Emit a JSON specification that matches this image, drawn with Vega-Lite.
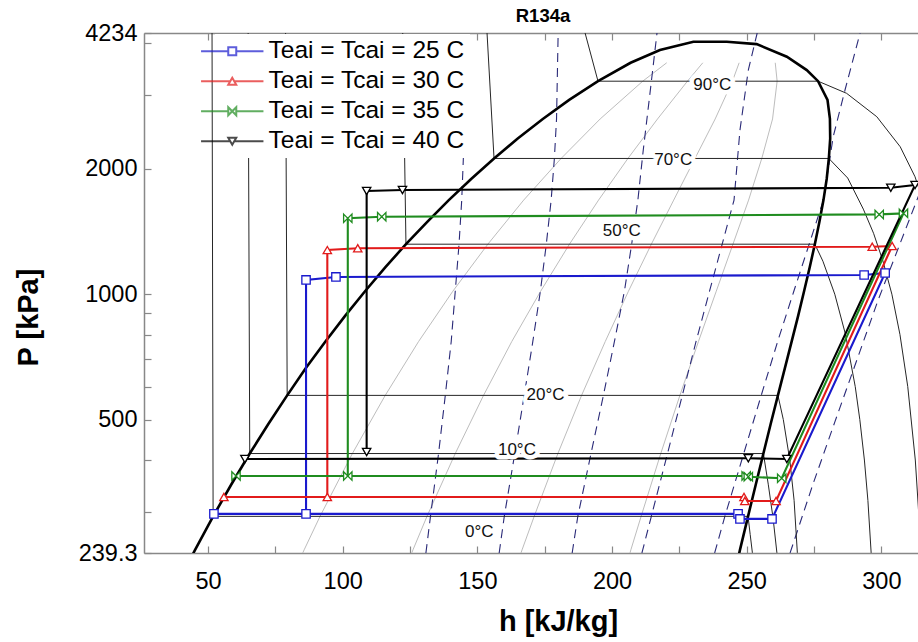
{
  "$schema": "https://vega.github.io/schema/vega-lite/v6.json",
  "width": 774,
  "height": 520,
  "autosize": "none",
  "padding": {"left": 144, "top": 33, "right": 0, "bottom": 89},
  "background": "white",
  "title": {"text": "R134a", "font": "Liberation Sans", "fontSize": 18.5, "fontWeight": "bold", "anchor": "middle", "frame": "group", "dx": 12, "dy": 19, "offset": 0, "baseline": "alphabetic", "color": "black"},
  "config": {
    "font": "Liberation Sans",
    "view": {"stroke": null},
    "axis": {"grid": false, "domainColor": "#888888", "domainWidth": 1.5, "tickColor": "#888888", "tickWidth": 1.2, "labelFont": "Liberation Sans", "labelFontSize": 23.5, "labelColor": "black", "titleFont": "Liberation Sans", "titleFontSize": 29, "titleFontWeight": "bold", "titleColor": "black", "labelFlush": false, "labelOverlap": false}
  },
  "datasets": {
    "dome": [
      {"k":0,"h":38.6,"P":200.6},{"k":1,"h":45.2,"P":243.5},{"k":2,"h":51.9,"P":293.0},{"k":3,"h":58.7,"P":349.9},{"k":4,"h":65.5,"P":414.6},{"k":5,"h":72.4,"P":488.0},{"k":6,"h":79.4,"P":571.7},{"k":7,"h":86.4,"P":665.8},{"k":8,"h":93.6,"P":770.2},{"k":9,"h":100.9,"P":887.0},{"k":10,"h":108.3,"P":1016.6},{"k":11,"h":115.8,"P":1160.2},{"k":12,"h":123.5,"P":1318.1},{"k":13,"h":131.4,"P":1491.6},{"k":14,"h":139.4,"P":1681.8},{"k":15,"h":147.7,"P":1889.8},{"k":16,"h":156.2,"P":2116.8},{"k":17,"h":165.0,"P":2364.1},{"k":18,"h":174.3,"P":2633.2},{"k":19,"h":184.1,"P":2925.8},{"k":20,"h":194.8,"P":3244.2},{"k":21,"h":206.9,"P":3591.5},{"k":22,"h":217.8,"P":3853},{"k":23,"h":230.2,"P":4034},{"k":24,"h":242.6,"P":4034},{"k":25,"h":253.7,"P":3981},{"k":26,"h":264.9,"P":3714},{"k":27,"h":272.3,"P":3450},{"k":28,"h":276.5,"P":3244.2},{"k":29,"h":280.0,"P":2925.8},{"k":30,"h":280.9,"P":2633.2},{"k":31,"h":281.0,"P":2364.1},{"k":32,"h":280.5,"P":2116.8},{"k":33,"h":279.7,"P":1889.8},{"k":34,"h":278.5,"P":1681.8},{"k":35,"h":277.0,"P":1491.6},{"k":36,"h":275.3,"P":1318.1},{"k":37,"h":273.4,"P":1160.2},{"k":38,"h":271.3,"P":1016.6},{"k":39,"h":269.1,"P":887.0},{"k":40,"h":266.7,"P":770.2},{"k":41,"h":264.2,"P":665.8},{"k":42,"h":261.6,"P":571.7},{"k":43,"h":258.9,"P":488.0},{"k":44,"h":256.2,"P":414.6},{"k":45,"h":253.4,"P":349.9},{"k":46,"h":250.5,"P":293.0},{"k":47,"h":247.5,"P":243.5},{"k":48,"h":244.6,"P":200.6}
    ],
    "isotherms": [
      {"T":"0°C","k":0,"h":51.5,"P":4234},{"T":"0°C","k":1,"h":51.9,"P":293.0},{"T":"0°C","k":2,"h":250.5,"P":293.0},{"T":"0°C","k":3,"h":251.3,"P":265},{"T":"0°C","k":4,"h":252.1,"P":240},{"T":"0°C","k":5,"h":252.3,"P":230},
      {"T":"10°C","k":0,"h":64.9,"P":4234},{"T":"10°C","k":1,"h":65.5,"P":414.6},{"T":"10°C","k":2,"h":256.2,"P":414.6},{"T":"10°C","k":3,"h":258.0,"P":350},{"T":"10°C","k":4,"h":259.8,"P":290},{"T":"10°C","k":5,"h":261.2,"P":240},{"T":"10°C","k":6,"h":261.4,"P":230},
      {"T":"20°C","k":0,"h":78.8,"P":4234},{"T":"20°C","k":1,"h":79.4,"P":571.7},{"T":"20°C","k":2,"h":261.6,"P":571.7},{"T":"20°C","k":3,"h":263.6,"P":500},{"T":"20°C","k":4,"h":266.0,"P":400},{"T":"20°C","k":5,"h":267.6,"P":320},{"T":"20°C","k":6,"h":268.8,"P":240},{"T":"20°C","k":7,"h":269.0,"P":230},
      {"T":"50°C","k":0,"h":122.3,"P":4234},{"T":"50°C","k":1,"h":123.5,"P":1318.1},{"T":"50°C","k":2,"h":275.3,"P":1318.1},{"T":"50°C","k":3,"h":278.3,"P":1200},{"T":"50°C","k":4,"h":282.7,"P":1000},{"T":"50°C","k":5,"h":286.7,"P":800},{"T":"50°C","k":6,"h":290.3,"P":600},{"T":"50°C","k":7,"h":292.0,"P":500},{"T":"50°C","k":8,"h":293.7,"P":400},{"T":"50°C","k":9,"h":295.0,"P":320},{"T":"50°C","k":10,"h":296.2,"P":240},{"T":"50°C","k":11,"h":296.4,"P":230},
      {"T":"70°C","k":0,"h":153.6,"P":4234},{"T":"70°C","k":1,"h":156.2,"P":2116.8},{"T":"70°C","k":2,"h":280.5,"P":2116.8},{"T":"70°C","k":3,"h":287.5,"P":1900},{"T":"70°C","k":4,"h":293.3,"P":1600},{"T":"70°C","k":5,"h":297.1,"P":1400},{"T":"70°C","k":6,"h":300.6,"P":1200},{"T":"70°C","k":7,"h":303.9,"P":1000},{"T":"70°C","k":8,"h":306.9,"P":800},{"T":"70°C","k":9,"h":309.8,"P":600},{"T":"70°C","k":10,"h":312.6,"P":400},{"T":"70°C","k":11,"h":314.8,"P":240},
      {"T":"90°C","k":0,"h":190.0,"P":4234},{"T":"90°C","k":1,"h":194.8,"P":3244.2},{"T":"90°C","k":2,"h":276.5,"P":3244.2},{"T":"90°C","k":3,"h":287.1,"P":3034},{"T":"90°C","k":4,"h":298.3,"P":2666},{"T":"90°C","k":5,"h":307.0,"P":2258},{"T":"90°C","k":6,"h":312.5,"P":1913},{"T":"90°C","k":7,"h":316.4,"P":1600},{"T":"90°C","k":8,"h":319.3,"P":1400}
    ],
    "quality": [
      {"q":"0.2","h":79.8,"P":200.6},{"q":"0.2","h":85.7,"P":243.5},{"q":"0.2","h":91.6,"P":293.0},{"q":"0.2","h":103.6,"P":414.6},{"q":"0.2","h":115.8,"P":571.7},{"q":"0.2","h":128.2,"P":770.2},{"q":"0.2","h":140.9,"P":1016.6},{"q":"0.2","h":153.9,"P":1318.1},{"q":"0.2","h":167.2,"P":1681.8},{"q":"0.2","h":181.1,"P":2116.8},{"q":"0.2","h":195.6,"P":2633.2},{"q":"0.2","h":211.4,"P":3244.2},{"q":"0.2","h":220.3,"P":3591.5},
      {"q":"0.4","h":121.0,"P":200.6},{"q":"0.4","h":126.1,"P":243.5},{"q":"0.4","h":131.3,"P":293.0},{"q":"0.4","h":141.8,"P":414.6},{"q":"0.4","h":152.3,"P":571.7},{"q":"0.4","h":162.8,"P":770.2},{"q":"0.4","h":173.5,"P":1016.6},{"q":"0.4","h":184.2,"P":1318.1},{"q":"0.4","h":195.0,"P":1681.8},{"q":"0.4","h":205.9,"P":2116.8},{"q":"0.4","h":216.9,"P":2633.2},{"q":"0.4","h":228.0,"P":3244.2},{"q":"0.4","h":233.7,"P":3591.5},
      {"q":"0.6","h":162.2,"P":200.6},{"q":"0.6","h":166.6,"P":243.5},{"q":"0.6","h":171.1,"P":293.0},{"q":"0.6","h":179.9,"P":414.6},{"q":"0.6","h":188.7,"P":571.7},{"q":"0.6","h":197.5,"P":770.2},{"q":"0.6","h":206.1,"P":1016.6},{"q":"0.6","h":214.6,"P":1318.1},{"q":"0.6","h":222.9,"P":1681.8},{"q":"0.6","h":230.8,"P":2116.8},{"q":"0.6","h":238.3,"P":2633.2},{"q":"0.6","h":244.7,"P":3244.2},{"q":"0.6","h":247.2,"P":3591.5},
      {"q":"0.8","h":203.4,"P":200.6},{"q":"0.8","h":207.0,"P":243.5},{"q":"0.8","h":210.8,"P":293.0},{"q":"0.8","h":218.1,"P":414.6},{"q":"0.8","h":225.2,"P":571.7},{"q":"0.8","h":232.1,"P":770.2},{"q":"0.8","h":238.7,"P":1016.6},{"q":"0.8","h":244.9,"P":1318.1},{"q":"0.8","h":250.7,"P":1681.8},{"q":"0.8","h":255.6,"P":2116.8},{"q":"0.8","h":259.6,"P":2633.2},{"q":"0.8","h":261.3,"P":3244.2},{"q":"0.8","h":260.6,"P":3591.5}
    ],
    "isentropes": [
      {"s":"0.5","h":130.9,"P":239.3},{"s":"0.5","h":132.6,"P":293},{"s":"0.5","h":135.6,"P":414.6},{"s":"0.5","h":138.1,"P":571.7},{"s":"0.5","h":140.3,"P":770.2},{"s":"0.5","h":141.8,"P":1016.6},{"s":"0.5","h":143.2,"P":1318.1},{"s":"0.5","h":144.2,"P":1681.8},{"s":"0.5","h":144.8,"P":2116.8},{"s":"0.5","h":145.4,"P":4234},
      {"s":"0.6","h":158.1,"P":239.3},{"s":"0.6","h":160.0,"P":293},{"s":"0.6","h":163.9,"P":414.6},{"s":"0.6","h":167.4,"P":571.7},{"s":"0.6","h":170.6,"P":770.2},{"s":"0.6","h":173.4,"P":1016.6},{"s":"0.6","h":175.6,"P":1318.1},{"s":"0.6","h":177.4,"P":1681.8},{"s":"0.6","h":178.6,"P":2116.8},{"s":"0.6","h":179.4,"P":2633.2},{"s":"0.6","h":180.0,"P":4234},
      {"s":"0.7","h":185.2,"P":239.3},{"s":"0.7","h":187.3,"P":293},{"s":"0.7","h":192.2,"P":414.6},{"s":"0.7","h":196.8,"P":571.7},{"s":"0.7","h":200.9,"P":770.2},{"s":"0.7","h":204.6,"P":1016.6},{"s":"0.7","h":207.3,"P":1318.1},{"s":"0.7","h":209.6,"P":1681.8},{"s":"0.7","h":211.6,"P":2218},{"s":"0.7","h":214.0,"P":3000},{"s":"0.7","h":216.7,"P":4234},
      {"s":"0.8","h":211.1,"P":239.3},{"s":"0.8","h":214.6,"P":293},{"s":"0.8","h":220.6,"P":414.6},{"s":"0.8","h":226.1,"P":571.7},{"s":"0.8","h":231.2,"P":770.2},{"s":"0.8","h":236.2,"P":1016.6},{"s":"0.8","h":240.9,"P":1318.1},{"s":"0.8","h":245.3,"P":1681.8},{"s":"0.8","h":247.5,"P":2476},{"s":"0.8","h":250.6,"P":3450},{"s":"0.8","h":253.9,"P":4234},
      {"s":"0.9","h":238.1,"P":239.3},{"s":"0.9","h":241.9,"P":293},{"s":"0.9","h":248.9,"P":414.6},{"s":"0.9","h":255.4,"P":571.7},{"s":"0.9","h":261.5,"P":770.2},{"s":"0.9","h":267.5,"P":1016.6},{"s":"0.9","h":273.2,"P":1318.1},{"s":"0.9","h":278.5,"P":1681.8},{"s":"0.9","h":282.1,"P":2384},{"s":"0.9","h":286.5,"P":3090},{"s":"0.9","h":292.1,"P":4234},
      {"s":"1.0","h":266.1,"P":239.3},{"s":"1.0","h":274.6,"P":350},{"s":"1.0","h":282.6,"P":491},{"s":"1.0","h":298.8,"P":968},{"s":"1.0","h":318.1,"P":2030}
    ],
    "cycles": [
      {"series":"Teai = Tcai = 25 C","k":0,"h":52.2,"P":297},{"series":"Teai = Tcai = 25 C","k":1,"h":246.8,"P":297},{"series":"Teai = Tcai = 25 C","k":2,"h":247.5,"P":288.9},{"series":"Teai = Tcai = 25 C","k":3,"h":259.4,"P":288.9},{"series":"Teai = Tcai = 25 C","k":4,"h":301.4,"P":1124},{"series":"Teai = Tcai = 25 C","k":5,"h":293.6,"P":1112},{"series":"Teai = Tcai = 25 C","k":6,"h":97.5,"P":1100},{"series":"Teai = Tcai = 25 C","k":7,"h":86.4,"P":1082},{"series":"Teai = Tcai = 25 C","k":8,"h":86.4,"P":297},
      {"series":"Teai = Tcai = 30 C","k":0,"h":55.9,"P":326.1},{"series":"Teai = Tcai = 30 C","k":1,"h":249.0,"P":326.1},{"series":"Teai = Tcai = 30 C","k":2,"h":249.3,"P":319.0},{"series":"Teai = Tcai = 30 C","k":3,"h":260.9,"P":319.0},{"series":"Teai = Tcai = 30 C","k":4,"h":304.0,"P":1305},{"series":"Teai = Tcai = 30 C","k":5,"h":296.6,"P":1300},{"series":"Teai = Tcai = 30 C","k":6,"h":105.6,"P":1289},{"series":"Teai = Tcai = 30 C","k":7,"h":94.3,"P":1276},{"series":"Teai = Tcai = 30 C","k":8,"h":94.3,"P":326.1},
      {"series":"Teai = Tcai = 35 C","k":0,"h":60.4,"P":366.2},{"series":"Teai = Tcai = 35 C","k":1,"h":249.8,"P":366.2},{"series":"Teai = Tcai = 35 C","k":2,"h":250.6,"P":364.8},{"series":"Teai = Tcai = 35 C","k":3,"h":263.0,"P":361.6},{"series":"Teai = Tcai = 35 C","k":4,"h":308.2,"P":1563},{"series":"Teai = Tcai = 35 C","k":5,"h":299.2,"P":1554},{"series":"Teai = Tcai = 35 C","k":6,"h":114.5,"P":1534},{"series":"Teai = Tcai = 35 C","k":7,"h":101.9,"P":1521},{"series":"Teai = Tcai = 35 C","k":8,"h":101.9,"P":366.2},
      {"series":"Teai = Tcai = 40 C","k":0,"h":63.7,"P":402.3},{"series":"Teai = Tcai = 40 C","k":1,"h":250.6,"P":403.8},{"series":"Teai = Tcai = 40 C","k":2,"h":264.9,"P":402.3},{"series":"Teai = Tcai = 40 C","k":3,"h":312.5,"P":1828},{"series":"Teai = Tcai = 40 C","k":4,"h":303.5,"P":1800},{"series":"Teai = Tcai = 40 C","k":5,"h":122.2,"P":1778},{"series":"Teai = Tcai = 40 C","k":6,"h":108.9,"P":1768},{"series":"Teai = Tcai = 40 C","k":7,"h":108.9,"P":418.1}
    ],
    "labels": [
      {"label":"0°C","h":150.7,"P":268.4},{"label":"10°C","h":164.7,"P":422.8},{"label":"20°C","h":175.3,"P":573},{"label":"50°C","h":203.6,"P":1420},{"label":"70°C","h":222.7,"P":2098},{"label":"90°C","h":237.2,"P":3177}
    ]
  },
  "layer": [
    {
      "data": {"name": "quality"},
      "mark": {"type": "line", "stroke": "#bdbdbd", "strokeWidth": 1, "clip": true},
      "encoding": {
        "x": {"field": "h", "type": "quantitative", "scale": {"domain": [26.24, 313.6], "nice": false, "zero": false},
          "axis": {"orient": "bottom", "values": [50,75,100,125,150,175,200,225,250,275,300], "labelExpr": "datum.value % 50 === 0 ? datum.label : ''", "tickSize": -7, "labelPadding": 23, "title": "h [kJ/kg]", "titleX": 414, "titleY": 77, "titleBaseline": "alphabetic", "titleAlign": "center"}},
        "y": {"field": "P", "type": "quantitative", "scale": {"type": "log", "domain": [239.3, 4234], "nice": false},
          "axis": {"orient": "left", "values": [239.3,300,400,500,600,700,800,900,1000,2000,3000,4000,4234], "format": "~g", "labelExpr": "indexof([239.3,500,1000,2000,4234], datum.value) >= 0 ? datum.label : ''", "tickSize": -7, "labelPadding": 14, "title": "P [kPa]", "titleX": -107, "titleY": 284, "titleAngle": 270, "titleBaseline": "alphabetic", "titleAlign": "center"}},
        "detail": {"field": "q"},
        "order": {"field": "P", "type": "quantitative"}
      }
    },
    {
      "data": {"name": "isentropes"},
      "mark": {"type": "line", "stroke": "#2a2a78", "strokeWidth": 1.1, "strokeDash": [9, 6], "clip": true},
      "encoding": {
        "x": {"field": "h", "type": "quantitative", "scale": {"domain": [26.24, 313.6], "nice": false, "zero": false},
          "axis": {"orient": "top", "values": [50,75,100,125,150,175,200,225,250,275,300], "labels": false, "tickSize": -7, "title": null}},
        "y": {"field": "P", "type": "quantitative", "scale": {"type": "log", "domain": [239.3, 4234], "nice": false}, "axis": null},
        "detail": {"field": "s"},
        "order": {"field": "P", "type": "quantitative"}
      }
    },
    {
      "data": {"name": "isotherms"},
      "mark": {"type": "line", "stroke": "#262626", "strokeWidth": 1, "clip": true},
      "encoding": {
        "x": {"field": "h", "type": "quantitative", "scale": {"domain": [26.24, 313.6], "nice": false, "zero": false}, "axis": null},
        "y": {"field": "P", "type": "quantitative", "scale": {"type": "log", "domain": [239.3, 4234], "nice": false}, "axis": null},
        "detail": {"field": "T"},
        "order": {"field": "k", "type": "quantitative"}
      }
    },
    {
      "data": {"name": "dome"},
      "mark": {"type": "line", "stroke": "black", "strokeWidth": 2.6, "clip": true},
      "encoding": {
        "x": {"field": "h", "type": "quantitative", "scale": {"domain": [26.24, 313.6], "nice": false, "zero": false}, "axis": null},
        "y": {"field": "P", "type": "quantitative", "scale": {"type": "log", "domain": [239.3, 4234], "nice": false}, "axis": null},
        "order": {"field": "k", "type": "quantitative"}
      }
    },
    {
      "data": {"name": "cycles"},
      "mark": {"type": "line", "strokeWidth": 2.1, "clip": true},
      "encoding": {
        "x": {"field": "h", "type": "quantitative", "scale": {"domain": [26.24, 313.6], "nice": false, "zero": false}, "axis": null},
        "y": {"field": "P", "type": "quantitative", "scale": {"type": "log", "domain": [239.3, 4234], "nice": false}, "axis": null},
        "stroke": {"field": "series", "type": "nominal", "scale": {"domain": ["Teai = Tcai = 25 C","Teai = Tcai = 30 C","Teai = Tcai = 35 C","Teai = Tcai = 40 C"], "range": ["#1a1acd","#e21b1b","#1f8c1f","#000000"]}, "legend": null},
        "order": {"field": "k", "type": "quantitative"}
      }
    },
    {
      "data": {"name": "cycles"},
      "mark": {"type": "point", "filled": true, "fill": "white", "strokeWidth": 1.3, "size": 70, "opacity": 1, "clip": true},
      "encoding": {
        "x": {"field": "h", "type": "quantitative", "scale": {"domain": [26.24, 313.6], "nice": false, "zero": false}, "axis": null},
        "y": {"field": "P", "type": "quantitative", "scale": {"type": "log", "domain": [239.3, 4234], "nice": false}, "axis": null},
        "stroke": {"field": "series", "type": "nominal", "scale": {"domain": ["Teai = Tcai = 25 C","Teai = Tcai = 30 C","Teai = Tcai = 35 C","Teai = Tcai = 40 C"], "range": ["#1a1acd","#e21b1b","#1f8c1f","#000000"]}, "legend": null},
        "shape": {"field": "series", "type": "nominal", "scale": {"domain": ["Teai = Tcai = 25 C","Teai = Tcai = 30 C","Teai = Tcai = 35 C","Teai = Tcai = 40 C"], "range": ["square","triangle-up","M-1,-1L1,1L1,-1L-1,1Z","triangle-down"]}, "legend": null}
      }
    },
    {
      "data": {"name": "labels"},
      "mark": {"type": "text", "font": "Liberation Sans", "fontSize": 17, "fill": "white", "stroke": "white", "strokeWidth": 9, "strokeJoin": "round", "baseline": "middle", "align": "center", "clip": true},
      "encoding": {
        "x": {"field": "h", "type": "quantitative", "scale": {"domain": [26.24, 313.6], "nice": false, "zero": false}, "axis": null},
        "y": {"field": "P", "type": "quantitative", "scale": {"type": "log", "domain": [239.3, 4234], "nice": false}, "axis": null},
        "text": {"field": "label"}
      }
    },
    {
      "data": {"name": "labels"},
      "mark": {"type": "text", "font": "Liberation Sans", "fontSize": 17, "fill": "#111111", "baseline": "middle", "align": "center", "clip": true},
      "encoding": {
        "x": {"field": "h", "type": "quantitative", "scale": {"domain": [26.24, 313.6], "nice": false, "zero": false}, "axis": null},
        "y": {"field": "P", "type": "quantitative", "scale": {"type": "log", "domain": [239.3, 4234], "nice": false}, "axis": null},
        "text": {"field": "label"}
      }
    },
    {
      "data": {"name": "cycles"},
      "transform": [{"filter": "false"}],
      "mark": {"type": "point", "filled": true, "fill": "white", "strokeWidth": 2},
      "encoding": {
        "x": {"field": "h", "type": "quantitative", "scale": {"domain": [26.24, 313.6], "nice": false, "zero": false}, "axis": null},
        "y": {"field": "P", "type": "quantitative", "scale": {"type": "log", "domain": [239.3, 4234], "nice": false}, "axis": null},
        "stroke": {"field": "series", "type": "nominal", "scale": {"domain": ["Teai = Tcai = 25 C","Teai = Tcai = 30 C","Teai = Tcai = 35 C","Teai = Tcai = 40 C"], "range": ["#1a1acd","#e21b1b","#1f8c1f","#000000"]},
          "legend": {"title": null, "orient": "none", "legendX": 71, "legendY": 1, "direction": "vertical", "fillColor": "white", "padding": 5, "symbolSize": 256, "symbolStrokeWidth": 2, "labelFont": "Liberation Sans", "labelFontSize": 24.5, "labelColor": "black", "labelLimit": 400, "labelOffset": 24, "rowPadding": 5}},
        "shape": {"field": "series", "type": "nominal", "scale": {"domain": ["Teai = Tcai = 25 C","Teai = Tcai = 30 C","Teai = Tcai = 35 C","Teai = Tcai = 40 C"], "range": ["M-3.9,0L-0.5,0M-0.5,-0.5L0.5,-0.5L0.5,0.5L-0.5,0.5ZM0.5,0L3.9,0","M-3.9,0L-0.25,0M0,-0.43L0.5,0.43L-0.5,0.43ZM0.25,0L3.9,0","M-3.9,0L-0.5,0M-0.5,-0.5L0.5,0.5L0.5,-0.5L-0.5,0.5ZM0.5,0L3.9,0","M-3.9,0L-0.25,0M0,0.43L0.5,-0.43L-0.5,-0.43ZM0.25,0L3.9,0"]},
          "legend": {"title": null, "orient": "none", "legendX": 71, "legendY": 1, "direction": "vertical", "fillColor": "white", "padding": 5, "symbolSize": 256, "symbolStrokeWidth": 2, "labelFont": "Liberation Sans", "labelFontSize": 24.5, "labelColor": "black", "labelLimit": 400, "labelOffset": 24, "rowPadding": 5}}
      }
    }
  ],
  "resolve": {
    "scale": {"stroke": "independent", "shape": "independent"},
    "axis": {"x": "independent", "y": "independent"},
    "legend": {"stroke": "independent", "shape": "independent"}
  }
}
